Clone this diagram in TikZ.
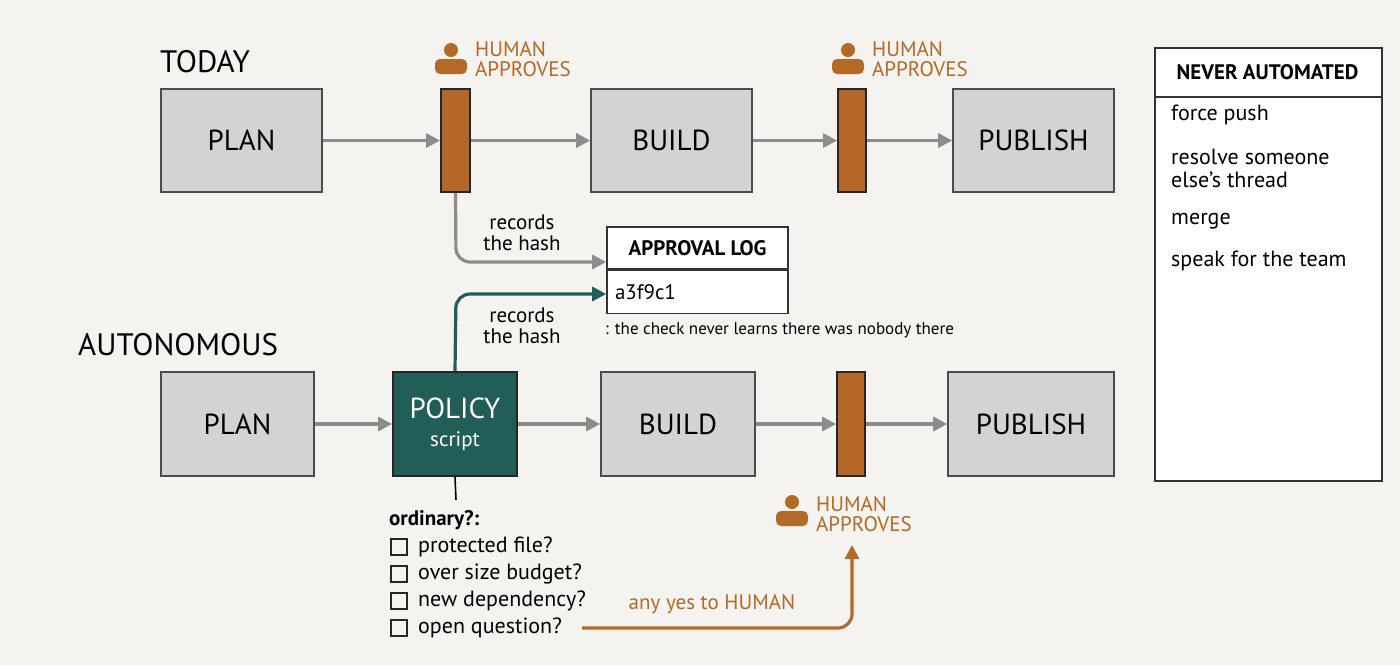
\documentclass[tikz,border=0pt]{standalone}
\usepackage{fontspec}
\setmainfont{PT Sans}
\usetikzlibrary{arrows.meta,calc}
\definecolor{bg}{HTML}{F4F3F0}
\definecolor{boxg}{HTML}{D3D3D3}
\definecolor{gate}{HTML}{B5672A}
\definecolor{teal}{HTML}{215E58}
\definecolor{hum}{HTML}{B36A26}
\definecolor{arr}{HTML}{8C8C8C}
\begin{document}
\begin{tikzpicture}[x=1pt,y=-1pt,
  stage/.style={draw=black!70,fill=boxg,line width=1.6pt,font=\fontsize{29}{31}\selectfont},
  gatebar/.style={draw=black!85,fill=gate,line width=1.8pt},
  conn/.style={draw=arr,line width=3.2pt,-{Triangle[length=14pt,width=14pt]}},
  lbl/.style={font=\fontsize{21}{21}\selectfont,align=center},
  hlbl/.style={font=\fontsize{21}{20}\selectfont,text=hum,align=left,anchor=west,inner sep=0},
  item/.style={font=\fontsize{22}{23}\selectfont,anchor=west,inner sep=0,align=left}]
\fill[bg] (0,0) rectangle (1400,665);
\useasboundingbox (0,0) rectangle (1400,665);
\newcommand{\person}[1]{%
  \fill[hum] ($(#1)+(0,-8)$) circle (7);
  \fill[hum,rounded corners=5pt] ($(#1)+(-16,16)$) rectangle ($(#1)+(16,1)$);}
% titles
\node[anchor=west,font=\fontsize{31}{33}\selectfont,inner sep=0] (today) at (160,62) {TODAY};
\node[anchor=west,font=\fontsize{31}{33}\selectfont,inner sep=0] (auto) at (78,345) {AUTONOMOUS};
% today row
\node[stage,minimum width=161,minimum height=103] (p1) at (241.5,140.5) {PLAN};
\node[gatebar,minimum width=29,minimum height=103,inner sep=0] (g1) at (455.5,140.5) {};
\node[stage,minimum width=161,minimum height=103] (b1) at (671.5,140.5) {BUILD};
\node[gatebar,minimum width=28,minimum height=103,inner sep=0] (g2) at (852,140.5) {};
\node[stage,minimum width=161,minimum height=103] (u1) at (1033.5,140.5) {PUBLISH};
\draw[conn] (p1) -- (g1);
\draw[conn] (g1) -- (b1);
\draw[conn] (b1) -- (g2);
\draw[conn] (g2) -- (u1);
\person{451,58}
\node[hlbl] (h1) at (475,59) {HUMAN\\APPROVES};
\person{848,58}
\node[hlbl] (h2) at (872,59) {HUMAN\\APPROVES};
% approval log
\node[draw=black!80,fill=white,line width=1.6pt,minimum width=181,minimum height=42,font=\bfseries\fontsize{21}{21}\selectfont] (logh) at (697.5,248) {APPROVAL LOG};
\node[draw=black!80,fill=white,line width=1.6pt,minimum width=181,minimum height=43,anchor=north,font=\fontsize{21}{21}\selectfont,text width=165] (logb) at (logh.south) {a3f9c1};
\node[anchor=west,font=\fontsize{17}{17}\selectfont,inner sep=0] (cap) at (605,330) {: the check never learns there was nobody there};
\draw[conn,rounded corners=14pt] (g1.south) -- (456,262) -- (logh.south west |- 0,262);
\node[lbl] (r1) at (522,233) {records\\the hash};
% autonomous row
\node[stage,minimum width=153,minimum height=104] (p2) at (237.5,424) {PLAN};
\node[draw=black!85,fill=teal,line width=1.8pt,minimum width=124,minimum height=104,text=white,align=center,font=\fontsize{29}{30}\selectfont] (pol) at (455,424) {POLICY\\[-2pt]{\fontsize{21}{21}\selectfont script}};
\node[stage,minimum width=154,minimum height=104] (b2) at (678,424) {BUILD};
\node[gatebar,minimum width=28,minimum height=104,inner sep=0] (g3) at (851,424) {};
\node[stage,minimum width=166,minimum height=104] (u2) at (1031,424) {PUBLISH};
\draw[conn] (p2) -- (pol);
\draw[conn] (pol) -- (b2);
\draw[conn] (b2) -- (g3);
\draw[conn] (g3) -- (u2);
\draw[conn,draw=teal,rounded corners=14pt] (pol.north) -- (456,294) -- (logb.west |- 0,294);
\node[lbl] (r2) at (522,326) {records\\the hash};
\person{792,510}
\node[hlbl] (h3) at (816,514) {HUMAN\\APPROVES};
% ordinary checks
\coordinate (tick) at (456,500);
\draw[black,line width=1.6pt] (pol.south) -- (tick);
\node[anchor=west,inner sep=0,font=\bfseries\fontsize{21}{21}\selectfont] (ord) at (389,520) {ordinary?:};
\foreach \y/\t [count=\i] in {547/protected file?,574/over size budget?,601/new dependency?,628/open question?}{
  \draw[black!85,line width=1.3pt] (391,\y-8) rectangle (407,\y+8);
  \node[item] (c\i) at (418,\y) {\t};
}
\draw[draw=hum,line width=3.2pt,rounded corners=14pt,-{Triangle[length=14pt,width=14pt]}] (c4.east)++(20,0) -- (852,628) -- (852,545);
\node[font=\fontsize{21}{21}\selectfont,text=hum] (any) at (712,604) {any yes to HUMAN};
% never automated
\node[draw=black!80,fill=white,line width=1.6pt,minimum width=227,minimum height=433,anchor=north west] (na) at (1154,47) {};
\draw[black!80,line width=1.6pt] (1154,97) -- (1381,97);
\node[font=\bfseries\fontsize{21}{21}\selectfont] (nah) at (1267.5,72) {NEVER AUTOMATED};
\node[item] (n1) at (1171,115) {force push};
\node[item] (n2) at (1171,168) {resolve someone\\else's thread};
\node[item] (n3) at (1171,221) {merge};
\node[item] (n4) at (1171,261) {speak for the team};
\end{tikzpicture}
\end{document}
